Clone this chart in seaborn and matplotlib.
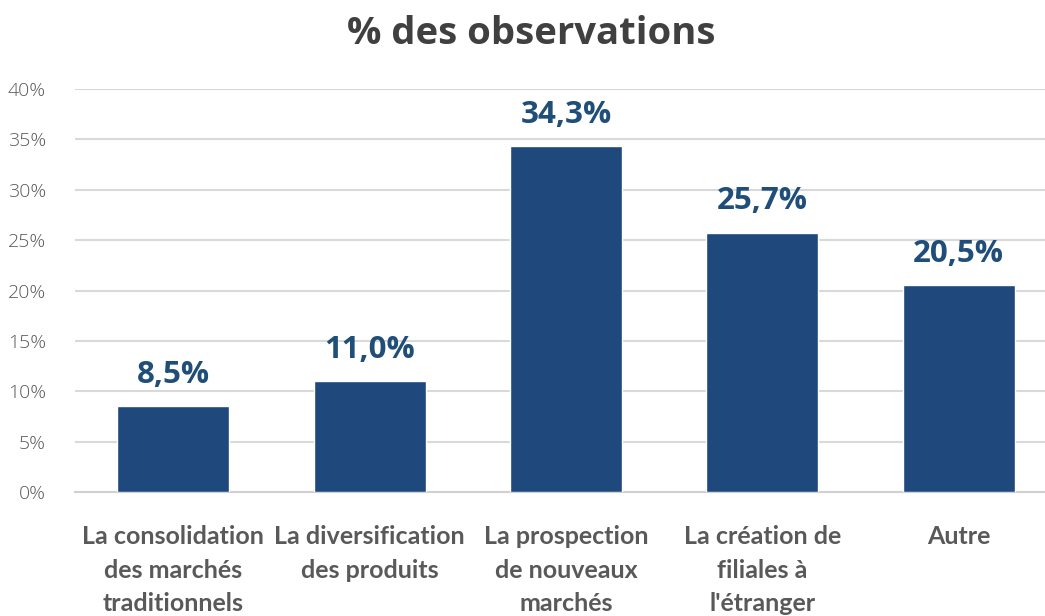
import numpy as np
import pandas as pd
import seaborn as sns
import matplotlib.pyplot as plt
from matplotlib.ticker import FixedLocator

categories = ['La consolidation\ndes marchés\ntraditionnels',
              'La diversification\ndes produits',
              'La prospection\nde nouveaux\nmarchés',
              'La création de\nfiliales à\nl\'étranger',
              'Autre']
values = [8.5, 11.0, 34.3, 25.7, 20.5]
value_labels = ['8,5%', '11,0%', '34,3%', '25,7%', '20,5%']
y_ticks = [0, 5, 10, 15, 20, 25, 30, 35, 40]

sns.set_style('white')
plt.rcParams['font.family'] = ['Lato', 'DejaVu Sans']

df = pd.DataFrame({'cat': categories, 'pct': values})

fig = plt.figure(figsize=(10.45, 6.16), dpi=100)
ax = fig.add_axes([75 / 1045, 124 / 616, 982 / 1045, 403 / 616])

sns.barplot(data=df, x='cat', y='pct', color='#1F487C', saturation=1,
            width=0.57, ax=ax, zorder=3)

ax.set_ylim(0, 40)
ax.set_xlim(-0.5, 4.5)
ax.set_yticks(y_ticks)
ax.set_yticklabels([f'{t}%' for t in y_ticks])
ax.yaxis.grid(True, color='#D9D9D9', linewidth=1.5, zorder=0)
ax.set_axisbelow(True)

for s in ['top', 'right', 'left']:
    ax.spines[s].set_visible(False)
ax.spines['bottom'].set_color('#D0D0D0')
ax.spines['bottom'].set_linewidth(1.5)

ax.tick_params(axis='y', length=0, pad=21, labelsize=14, labelcolor='#595959')
ax.tick_params(axis='x', which='major', length=0, pad=24)
ax.xaxis.set_minor_locator(FixedLocator(np.arange(-0.5, 5, 1)))
ax.tick_params(axis='x', which='minor', length=6, color='#D0D0D0', width=1.2)
for lbl in ax.get_yticklabels():
    lbl.set_fontfamily(['Open Sans', 'DejaVu Sans'])
    lbl.set_fontweight('light')

for lbl in ax.get_xticklabels():
    lbl.set_fontsize(18)
    lbl.set_fontweight('bold')
    lbl.set_color('#595959')
    lbl.set_linespacing(1.55)

for i, (v, t) in enumerate(zip(values, value_labels)):
    ax.annotate(t, (i, v), xytext=(0, 12), textcoords='offset points',
                ha='center', va='bottom', fontsize=22.5, fontweight='bold',
                color='#1F4E79', family=['Open Sans', 'DejaVu Sans'])

ax.set_xlabel('')
ax.set_ylabel('')
fig.text(0.508, 0.944, '% des observations', ha='center', va='center',
         fontsize=27.5, fontweight='bold', color='#404040',
         family=['Open Sans', 'DejaVu Sans'])

fig.savefig('out.png', dpi=100)
